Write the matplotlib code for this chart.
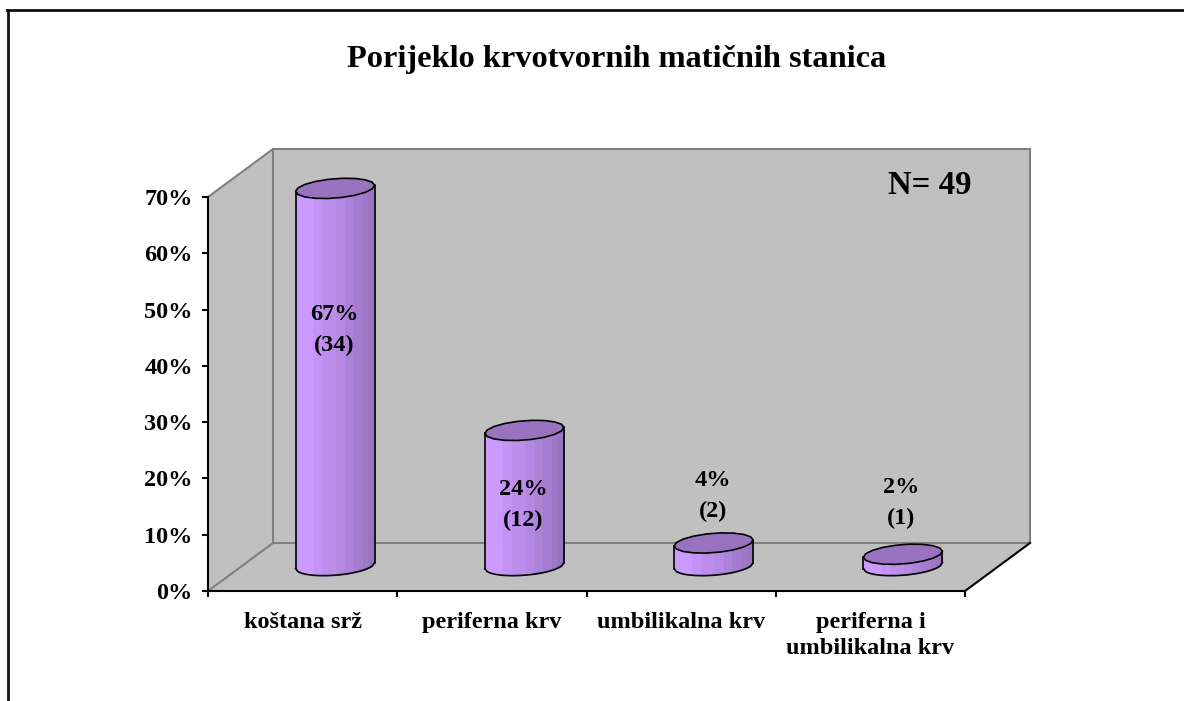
import matplotlib
matplotlib.use('Agg')
import matplotlib.pyplot as plt
import numpy as np
from matplotlib.patches import Polygon

W, H = 1184, 701

title = 'Porijeklo krvotvornih matičnih stanica'
categories = ['koštana srž', 'periferna krv', 'umbilikalna krv', 'periferna i\numbilikalna krv']
values = [67, 24, 4, 2]
counts = [34, 12, 2, 1]
yticks = [0, 10, 20, 30, 40, 50, 60, 70]
note = 'N= 49'

strip_edges = [0, 0.22, 0.34, 0.51, 0.62, 0.72, 0.84, 0.92, 1]
strip_colors = ['#CC99FF', '#C593F6', '#BD8DEC', '#B588E3', '#AD82DA', '#A67CD0', '#9F77C8', '#9973BF']
top_color = '#9973BF'

plt.rcParams['font.family'] = ['Liberation Serif', 'DejaVu Serif']
plt.rcParams['font.weight'] = 'bold'

fig = plt.figure(figsize=(W / 100, H / 100), dpi=100)

# front plane of the 3d box, px
left, right, top, bottom = 208, 965, 197, 591
ax = fig.add_axes([left / W, 1 - bottom / H, (right - left) / W, (bottom - top) / H])
ax.set_xlim(0, 4)
ax.set_ylim(0, 70)
ax.patch.set_visible(False)
for s in ['top', 'right']:
    ax.spines[s].set_visible(False)
for s in ['left', 'bottom']:
    ax.spines[s].set_linewidth(1.5)
    ax.spines[s].set_color('black')
    ax.spines[s].set_zorder(6)

px_x = 4 / (right - left)
px_y = 70 / (bottom - top)
dx = 65 * px_x
dy = 48 * px_y

# walls and floor
grey = '#C0C0C0'
line = '#808080'
ax.add_patch(Polygon([(0, 0), (dx, dy), (dx, 70 + dy), (0, 70)], fc=grey, ec='none', clip_on=False, zorder=1))
ax.add_patch(Polygon([(dx, dy), (4 + dx, dy), (4 + dx, 70 + dy), (dx, 70 + dy)], fc=grey, ec='none', clip_on=False, zorder=1))
ax.add_patch(Polygon([(0, 0), (4, 0), (4 + dx, dy), (dx, dy)], fc=grey, ec='none', clip_on=False, zorder=1))
for xs, ys, c in [([0, dx, dx, 4 + dx, 4 + dx], [70, 70 + dy, dy, dy, 70 + dy], line),
                  ([dx, 4 + dx], [70 + dy, 70 + dy], line),
                  ([0, dx], [0, dy], line),
                  ([4, 4 + dx], [0, dy], 'black')]:
    ax.plot(xs, ys, color=c, lw=1.5, clip_on=False, zorder=2)

# cylinders
a = 39.5 * px_x
slant = 3 * px_y
depth = 9.7 * px_y
base = 25.5 * px_y
t = np.linspace(0, 2 * np.pi, 19)


def lower_y(x, cx):
    u = np.clip((x - cx) / a, -1, 1)
    return slant * u - depth * np.sqrt(1 - u ** 2)


for i, v in enumerate(values):
    cx = i + 0.5 + dx / 2
    xx = np.linspace(cx - a, cx + a, 37)
    for j, c in enumerate(strip_colors):
        x0 = cx - a + 2 * a * strip_edges[j]
        x1 = cx - a + 2 * a * strip_edges[j + 1]
        sx = np.linspace(x0, x1, 8)
        ax.fill_between(sx, base + lower_y(sx, cx), base + v + lower_y(sx, cx),
                        color=c, lw=0.3, clip_on=False, zorder=3)
    ax.plot([cx - a, cx - a], [base - slant, base + v - slant], color='black', lw=1.2, clip_on=False, zorder=4)
    ax.plot([cx + a, cx + a], [base + slant, base + v + slant], color='black', lw=1.2, clip_on=False, zorder=4)
    ax.plot(xx, base + lower_y(xx, cx), color='black', lw=1.2, clip_on=False, zorder=4)
    ring = np.column_stack([cx + a * np.cos(t), base + v + slant * np.cos(t) + depth * np.sin(t)])
    ax.add_patch(Polygon(ring, fc=top_color, ec='black', lw=1.2, clip_on=False, zorder=5))

# data labels sit at fixed spots in the box
label_y = [46.3, 15.3, 16.9, 15.7]
label_x = [0.5 + dx / 2 - 0.005, 1.5 + dx / 2 - 0.005, 2.5 + dx / 2 - 0.005, 3.5 + dx / 2 - 0.01]
for x, y, v, n in zip(label_x, label_y, values, counts):
    ax.text(x, y, f'{v}%\n({n})', ha='center', va='center', fontsize=17.5, fontweight='bold',
            linespacing=1.62, zorder=7, clip_on=False)

ax.set_yticks(yticks)
ax.set_yticklabels([f'{y}%' for y in yticks], fontsize=17.5, fontweight='bold')
ax.set_xticks(range(5))
ax.set_xticklabels([])
ax.tick_params(axis='both', length=4, width=1.5, color='black')
ax.tick_params(axis='y', pad=7)
for i, c in enumerate(categories):
    ax.annotate(c, (i + 0.5, 0), xytext=(0, -15), textcoords='offset points', ha='center', va='top',
                fontsize=17.5, fontweight='bold', linespacing=1.3, annotation_clip=False)

ax.text(4 + dx - 58 * px_x, 70 + dy - 36 * px_y, note, ha='right', va='center', fontsize=23.7, fontweight='bold', zorder=7)

fig.text(617 / W, 1 - 59 / H, title, ha='center', va='center', fontsize=23.3, fontweight='bold')

# outer frame, only left and top show
fig.add_artist(plt.Line2D([7.5 / W, 7.5 / W], [0, 1 - 10 / H], color='#111111', lw=2))
fig.add_artist(plt.Line2D([7 / W, 1], [1 - 10 / H, 1 - 10 / H], color='#111111', lw=2))

fig.savefig('out.png', dpi=100, facecolor='white')
